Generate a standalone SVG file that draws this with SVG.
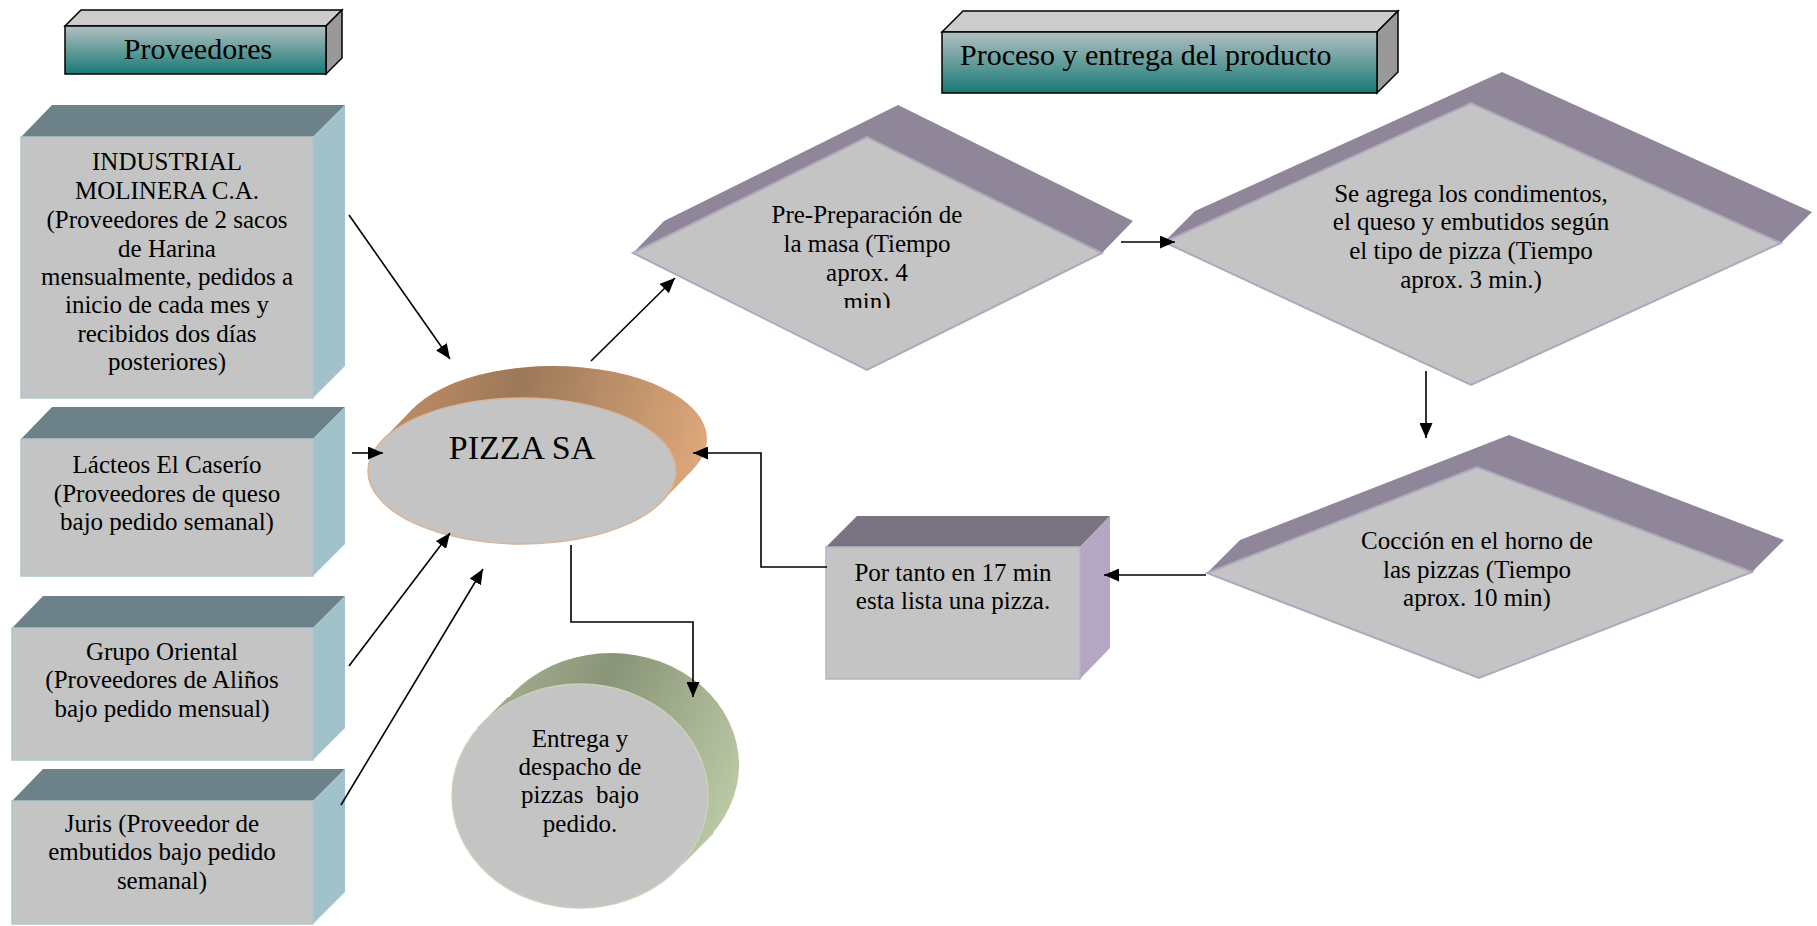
<svg xmlns="http://www.w3.org/2000/svg" width="1817" height="926" viewBox="0 0 1817 926">
<style>
text{font-family:"Liberation Serif","Times New Roman",serif;fill:#000}
.t{font-size:25px;text-anchor:middle}
.h{font-size:30px}
.hdr-top{fill:#cccccc;stroke:#000;stroke-width:1.5}
.hdr-side{fill:#999999;stroke:#000;stroke-width:1.5}
.hdr-front{fill:url(#gTeal);stroke:#000;stroke-width:1.5}
.s-top{fill:#6d8288}
.s-side{fill:#a1c2cb}
.s-front{fill:#c4c4c4;stroke:#b0c6cc;stroke-width:1.5}
.d-back{fill:#8f8799}
.d-front{fill:#c4c4c4;stroke:#aea8bd;stroke-width:2}
.p-top{fill:#7a7381}
.p-side{fill:#b4a7c2}
.conn{stroke:#000;stroke-width:1.6;fill:none}
</style>
<defs>
<linearGradient id="gTeal" x1="0" y1="0" x2="0" y2="1">
<stop offset="0" stop-color="#b3bfc0"/>
<stop offset="1" stop-color="#167a77"/>
</linearGradient>
<linearGradient id="gBrown" gradientUnits="userSpaceOnUse" x1="380" y1="380" x2="705" y2="470">
<stop offset="0" stop-color="#c49168"/>
<stop offset="0.4" stop-color="#9c7859"/>
<stop offset="1" stop-color="#dfa97b"/>
</linearGradient>
<linearGradient id="gGreen" gradientUnits="userSpaceOnUse" x1="480" y1="680" x2="740" y2="800">
<stop offset="0" stop-color="#a7b393"/>
<stop offset="0.4" stop-color="#8a9478"/>
<stop offset="1" stop-color="#bccaa6"/>
</linearGradient>
<marker id="arr" markerUnits="userSpaceOnUse" markerWidth="15" markerHeight="13" viewBox="0 0 15 13" refX="15" refY="6.5" orient="auto">
<path d="M0,0 L15,6.5 L0,13 z" fill="#000"/>
</marker>
<clipPath id="clipD1"><rect x="600" y="90" width="540" height="218"/></clipPath>
</defs>

<g id="header-proveedores">
<polygon class="hdr-top" points="65,26 81,10 342,10 326,26"/>
<polygon class="hdr-side" points="326,26 342,10 342,58 326,74"/>
<rect class="hdr-front" x="65" y="26" width="261" height="48"/>
<text class="h" x="198" y="59" text-anchor="middle">Proveedores</text>
</g>

<g id="header-proceso">
<polygon class="hdr-top" points="942,32 963,11 1398,11 1377,32"/>
<polygon class="hdr-side" points="1377,32 1398,11 1398,72 1377,93"/>
<rect class="hdr-front" x="942" y="32" width="435" height="61"/>
<text class="h" x="960" y="65">Proceso y entrega del producto</text>
</g>

<g id="sup-industrial">
<polygon class="s-top" points="21,137 52,105 345,105 313,137"/>
<polygon class="s-side" points="313,137 345,105 345,366 313,398"/>
<rect class="s-front" x="21" y="137" width="292" height="261"/>
<text class="t" x="167" y="170">INDUSTRIAL</text>
<text class="t" x="167" y="199">MOLINERA C.A.</text>
<text class="t" x="167" y="228">(Proveedores de 2 sacos</text>
<text class="t" x="167" y="257">de Harina</text>
<text class="t" x="167" y="285">mensualmente, pedidos a</text>
<text class="t" x="167" y="313">inicio de cada mes y</text>
<text class="t" x="167" y="342">recibidos dos días</text>
<text class="t" x="167" y="370">posteriores)</text>
</g>

<g id="sup-lacteos">
<polygon class="s-top" points="21,439 52,407 345,407 313,439"/>
<polygon class="s-side" points="313,439 345,407 345,544 313,576"/>
<rect class="s-front" x="21" y="439" width="292" height="137"/>
<text class="t" x="167" y="473">Lácteos El Caserío</text>
<text class="t" x="167" y="502">(Proveedores de queso</text>
<text class="t" x="167" y="530">bajo pedido semanal)</text>
</g>

<g id="sup-grupo">
<polygon class="s-top" points="12,628 43,596 345,596 313,628"/>
<polygon class="s-side" points="313,628 345,596 345,728 313,760"/>
<rect class="s-front" x="12" y="628" width="301" height="132"/>
<text class="t" x="162" y="660">Grupo Oriental</text>
<text class="t" x="162" y="688">(Proveedores de Aliños</text>
<text class="t" x="162" y="717">bajo pedido mensual)</text>
</g>

<g id="sup-juris">
<polygon class="s-top" points="12,801 43,769 345,769 313,801"/>
<polygon class="s-side" points="313,801 345,769 345,892 313,924"/>
<rect class="s-front" x="12" y="801" width="301" height="123"/>
<text class="t" x="162" y="832">Juris (Proveedor de</text>
<text class="t" x="162" y="860">embutidos bajo pedido</text>
<text class="t" x="162" y="889">semanal)</text>
</g>

<g id="pizza">
<ellipse cx="553" cy="439" rx="154" ry="73" fill="url(#gBrown)"/>
<polygon points="662,501.5 693,469.5 413,408.5 382,440.5" fill="url(#gBrown)"/>
<ellipse cx="522" cy="471" rx="154" ry="73" fill="#c4c4c4" stroke="#d9b394" stroke-width="1.5"/>
<text x="522" y="459" font-size="34" text-anchor="middle">PIZZA SA</text>
</g>

<g id="entrega">
<ellipse cx="611" cy="765" rx="128" ry="112" fill="url(#gGreen)"/>
<polygon points="683,864 714,833 508,697 477,728" fill="url(#gGreen)"/>
<ellipse cx="580" cy="796" rx="128" ry="112" fill="#c4c4c4" stroke="#c9d3b8" stroke-width="1.5"/>
<text class="t" x="580" y="747">Entrega y</text>
<text class="t" x="580" y="775">despacho de</text>
<text class="t" x="580" y="803" style="white-space:pre">pizzas  bajo</text>
<text class="t" x="580" y="832">pedido.</text>
</g>

<g id="d1">
<polygon class="d-back" points="633,253 664,221 898,105 1133,221 1102,253 867,137"/>
<polygon class="d-front" points="633,253 867,137 1102,253 867,370"/>
<g clip-path="url(#clipD1)">
<text class="t" x="867" y="223">Pre-Preparación de</text>
<text class="t" x="867" y="252">la masa (Tiempo</text>
<text class="t" x="867" y="281">aprox. 4</text>
<text class="t" x="867" y="310">min)</text>
</g>
</g>

<g id="d2">
<polygon class="d-back" points="1164,242 1195,211 1502,72 1812,212 1781,243 1471,103"/>
<polygon class="d-front" points="1164,242 1471,103 1781,243 1471,385"/>
<text class="t" x="1471" y="202">Se agrega los condimentos,</text>
<text class="t" x="1471" y="230">el queso y embutidos según</text>
<text class="t" x="1471" y="259">el tipo de pizza (Tiempo</text>
<text class="t" x="1471" y="288">aprox. 3 min.)</text>
</g>

<g id="d3">
<polygon class="d-back" points="1207,573 1240,540 1509,435 1784,540 1752,572 1477,467"/>
<polygon class="d-front" points="1207,573 1477,467 1752,572 1479,678"/>
<text class="t" x="1477" y="549">Cocción en el horno de</text>
<text class="t" x="1477" y="578">las pizzas (Tiempo</text>
<text class="t" x="1477" y="606">aprox. 10 min)</text>
</g>

<g id="portanto">
<polygon class="p-top" points="826,547 857,516 1110,516 1080,547"/>
<polygon class="p-side" points="1080,547 1110,516 1110,648 1080,679"/>
<rect x="826" y="547" width="254" height="132" fill="#c4c4c4" stroke="#b9b2c6" stroke-width="1.5"/>
<text class="t" x="953" y="581">Por tanto en 17 min</text>
<text class="t" x="953" y="609">esta lista una pizza.</text>
</g>

<g id="connectors">
<line class="conn" x1="349" y1="215" x2="450" y2="359" marker-end="url(#arr)"/>
<line class="conn" x1="352" y1="453" x2="383" y2="453" marker-end="url(#arr)"/>
<line class="conn" x1="349" y1="666" x2="450" y2="533" marker-end="url(#arr)"/>
<line class="conn" x1="341" y1="805" x2="483" y2="569" marker-end="url(#arr)"/>
<line class="conn" x1="591" y1="361" x2="675" y2="278" marker-end="url(#arr)"/>
<line class="conn" x1="1121" y1="242" x2="1175" y2="242" marker-end="url(#arr)"/>
<line class="conn" x1="1426" y1="371" x2="1426" y2="438" marker-end="url(#arr)"/>
<line class="conn" x1="1206" y1="575" x2="1104" y2="575" marker-end="url(#arr)"/>
<polyline class="conn" points="827,567 761,567 761,453 693,453" marker-end="url(#arr)"/>
<polyline class="conn" points="571,545 571,622 693,622 693,697" marker-end="url(#arr)"/>
</g>
</svg>
